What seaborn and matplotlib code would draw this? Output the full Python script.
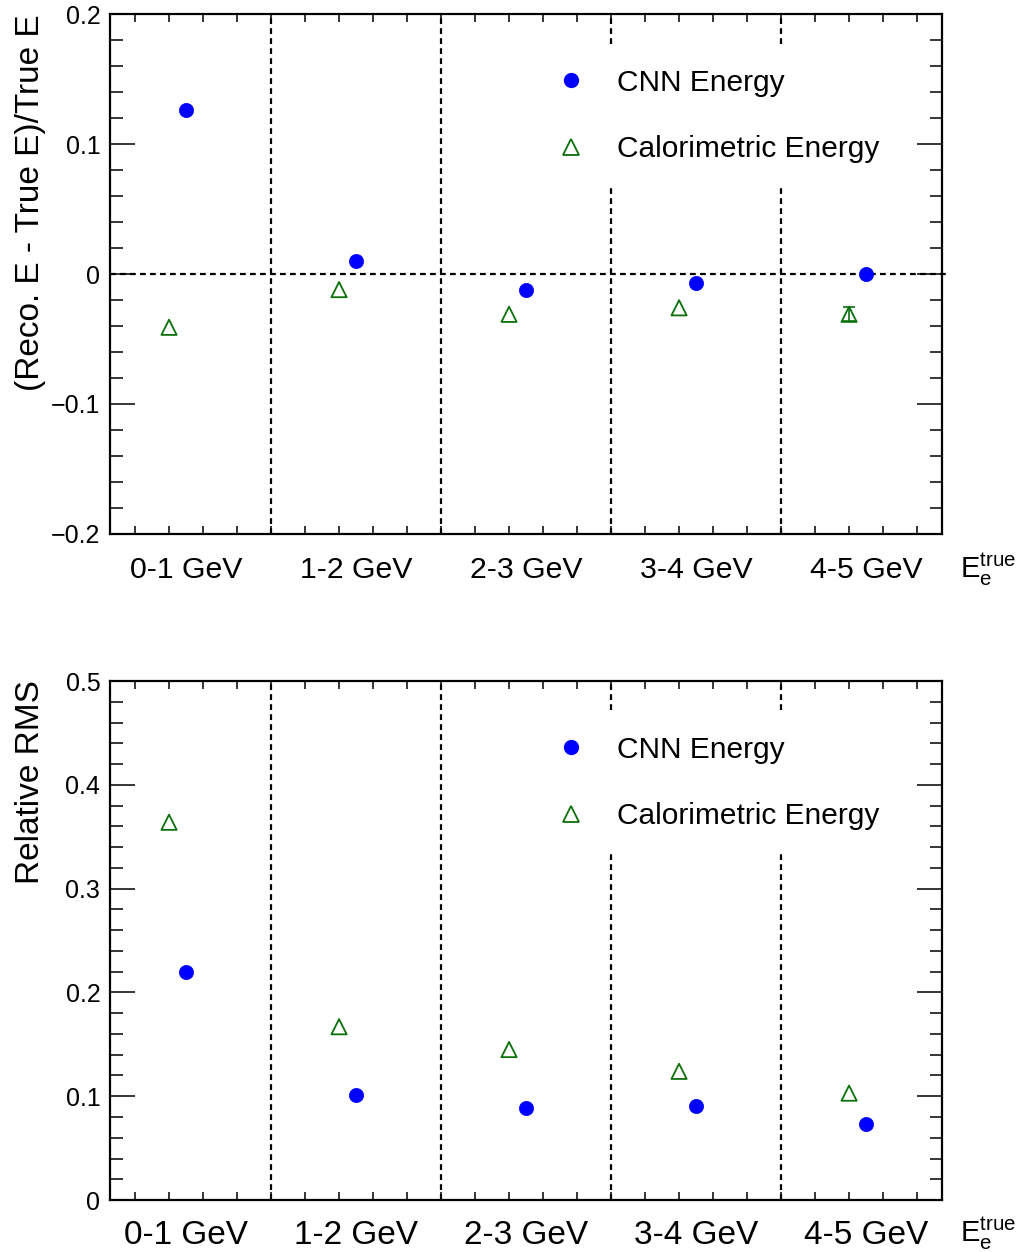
import numpy as np
import pandas as pd
import matplotlib
matplotlib.use("Agg")
import matplotlib.pyplot as plt
from matplotlib.ticker import MultipleLocator, FixedLocator, FixedFormatter
from matplotlib.lines import Line2D
import seaborn as sns

# ---------------- data ----------------
bins = ["0-1 GeV", "1-2 GeV", "2-3 GeV", "3-4 GeV", "4-5 GeV"]
series_names = ["CNN Energy", "Calorimetric Energy"]
bias_cnn = [0.126, 0.010, -0.012, -0.007, 0.000]
bias_calo = [-0.041, -0.012, -0.031, -0.026, -0.031]
bias_calo_err = [0.0, 0.0, 0.0, 0.0, 0.0055]
rms_cnn = [0.220, 0.101, 0.089, 0.091, 0.073]
rms_calo = [0.364, 0.167, 0.145, 0.124, 0.103]
bias_ticks = [-0.2, -0.1, 0.0, 0.1, 0.2]
bias_ticklabels = ["\u22120.2", "\u22120.1", "0", "0.1", "0.2"]
rms_ticks = [0.0, 0.1, 0.2, 0.3, 0.4, 0.5]
rms_ticklabels = ["0", "0.1", "0.2", "0.3", "0.4", "0.5"]
bias_ylabel = "(Reco. E - True E)/True E"
rms_ylabel = "Relative RMS"
xvar_label = r"$\mathregular{E_{e}^{true}}$"

# ---------------- style ----------------
sns.set_style("ticks")
plt.rcParams["font.family"] = ["Liberation Sans", "DejaVu Sans"]
plt.rcParams["mathtext.default"] = "regular"
plt.rcParams["axes.unicode_minus"] = True
for key in ["text.color", "axes.labelcolor", "xtick.color", "ytick.color",
            "xtick.labelcolor", "ytick.labelcolor"]:
    plt.rcParams[key] = "black"

BLUE = "#0000ff"
GREEN = "#0b700b"
CNN_OFFSET = 0.5
CALO_OFFSET = 0.4

fig = plt.figure(figsize=(10.19, 12.52), dpi=100)
ax_top = fig.add_axes([0.108, 0.5735, 0.8165, 0.4153])
ax_bot = fig.add_axes([0.108, 0.0415, 0.8165, 0.4145])

idx = np.arange(len(bins))


def make_frame(cnn, calo):
    return pd.DataFrame({
        "x": np.concatenate([idx + CNN_OFFSET, idx + CALO_OFFSET]),
        "y": np.concatenate([np.asarray(cnn, float), np.asarray(calo, float)]),
        "method": [series_names[0]] * len(bins) + [series_names[1]] * len(bins),
    })


def draw_panel(ax, cnn, calo, ylim, yticks, yticklabels, ylabel, label_y,
               xlabel_size, xpad, calo_err=None, zero_line=False):
    df = make_frame(cnn, calo)
    ax.set_xlim(0.053, 4.947)
    ax.set_ylim(*ylim)

    # bin separators
    for edge in idx[1:]:
        ax.axvline(edge, color="black", lw=1.6, ls=(0, (2.6, 1.9)), zorder=1)
    if zero_line:
        ax.axhline(0, xmin=0, xmax=1.008, color="black", lw=1.6,
                   ls=(0, (2.6, 1.9)), zorder=1, clip_on=False)

    d_cnn = df[df["method"] == series_names[0]]
    d_calo = df[df["method"] == series_names[1]]
    if calo_err is not None:
        err = np.asarray(calo_err, float)
        m = err > 0
        ax.errorbar(d_calo["x"].values[m], d_calo["y"].values[m], yerr=err[m],
                    fmt="none", ecolor=GREEN, elinewidth=1.2, capsize=4,
                    capthick=1.2, zorder=3)
    sns.scatterplot(data=d_calo, x="x", y="y", marker="^", s=120,
                    facecolor="none", edgecolor=GREEN, linewidth=1.3,
                    ax=ax, zorder=4, legend=False)
    sns.scatterplot(data=d_cnn, x="x", y="y", marker="o", s=105,
                    color=BLUE, edgecolor=BLUE, linewidth=0.5,
                    ax=ax, zorder=4, legend=False)

    # axes cosmetics
    for sp in ax.spines.values():
        sp.set_visible(True)
        sp.set_linewidth(1.6)
        sp.set_color("black")
    ax.xaxis.set_major_locator(FixedLocator(idx + 0.5))
    ax.xaxis.set_major_formatter(FixedFormatter(bins))
    ax.xaxis.set_minor_locator(MultipleLocator(0.2))
    ax.yaxis.set_major_locator(FixedLocator(yticks))
    ax.yaxis.set_major_formatter(FixedFormatter(yticklabels))
    ax.yaxis.set_minor_locator(MultipleLocator(0.02))
    ax.tick_params(axis="x", which="major", length=0, pad=xpad,
                   labelsize=xlabel_size, top=True, bottom=True,
                   labelcolor="black")
    ax.tick_params(axis="x", which="minor", direction="in", length=5.5,
                   width=1.1, top=True, bottom=True, color="black")
    ax.tick_params(axis="y", which="major", direction="in", length=18,
                   width=1.1, labelsize=18, pad=7, left=True, right=True,
                   color="black", labelcolor="black")
    ax.tick_params(axis="y", which="minor", direction="in", length=9,
                   width=1.1, left=True, right=True, color="black")
    ax.set_xlabel("")
    ax.set_ylabel(ylabel, fontsize=24, color="black")
    ax.yaxis.set_label_coords(-0.077, label_y)

    handles = [
        Line2D([], [], ls="", marker="o", markersize=10, color=BLUE),
        Line2D([], [], ls="", marker="^", markersize=11, mfc="none",
               mec=GREEN, mew=1.3),
    ]
    leg = ax.legend(handles, series_names, loc="upper left",
                    bbox_to_anchor=(0.512, 0.939), borderaxespad=0,
                    frameon=True, framealpha=1, facecolor="white",
                    edgecolor="none", fancybox=False, fontsize=21.5,
                    handlelength=0.8, handletextpad=1.14, borderpad=0.77,
                    labelspacing=1.28, labelcolor="black")
    leg.set_zorder(5)


draw_panel(ax_top, bias_cnn, bias_calo, (-0.2, 0.2), bias_ticks,
           bias_ticklabels, bias_ylabel, 0.638, 21.8, 15.6,
           calo_err=bias_calo_err, zero_line=True)
draw_panel(ax_bot, rms_cnn, rms_calo, (0.0, 0.5), rms_ticks,
           rms_ticklabels, rms_ylabel, 0.805, 24, 14.3)

fig.text(960 / 1019, 1 - 578 / 1252, xvar_label, fontsize=21, ha="left",
         va="baseline", color="black")
fig.text(960 / 1019, 1 - 1242 / 1252, xvar_label, fontsize=21, ha="left",
         va="baseline", color="black")

fig.savefig("out.png", dpi=100)
